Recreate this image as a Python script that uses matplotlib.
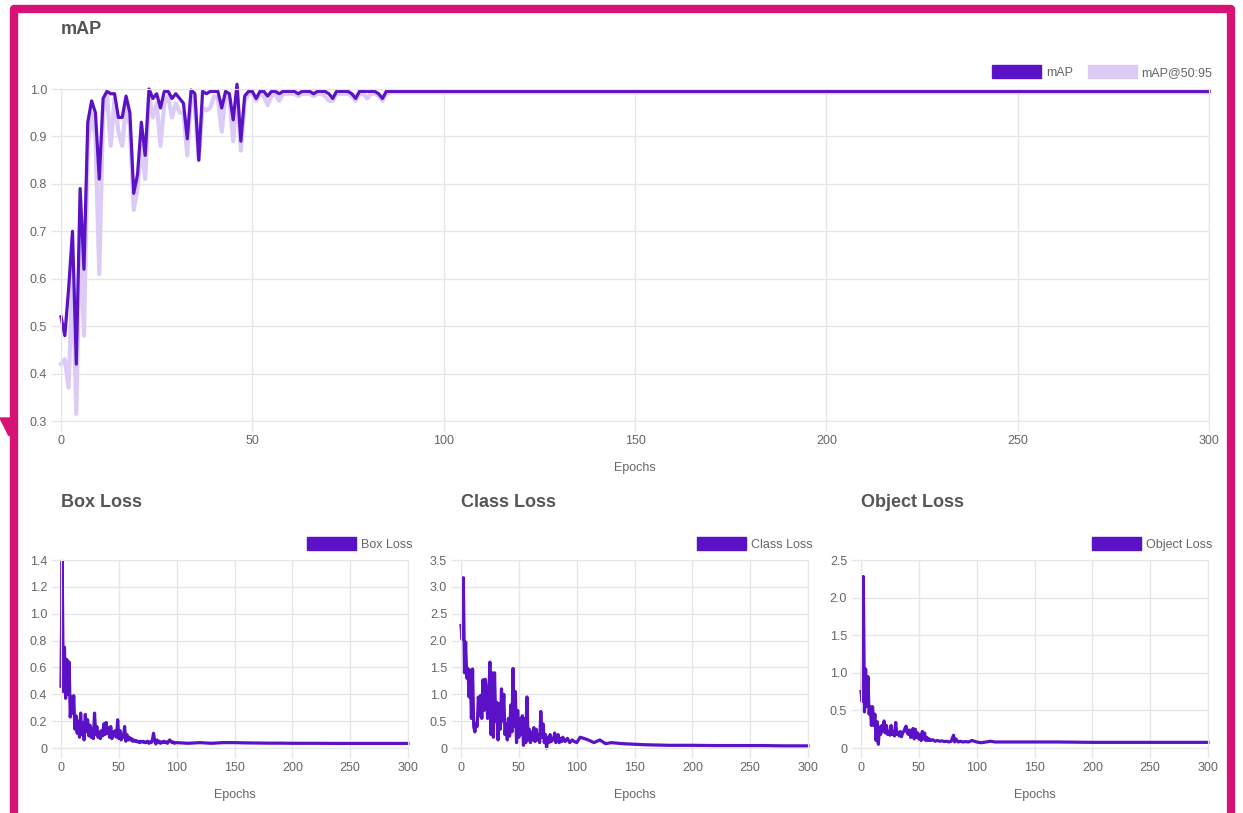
import matplotlib.pyplot as plt
from matplotlib.patches import Patch, Rectangle, Polygon

# ---- data ----
map_epochs = list(range(0, 91)) + list(range(100, 301, 10))
map_vals = [0.52, 0.48, 0.58, 0.70, 0.42, 0.79, 0.62, 0.93, 0.975, 0.95,
            0.81, 0.98, 0.995, 0.99, 0.99, 0.94, 0.94, 0.985, 0.95, 0.78,
            0.82, 0.93, 0.86, 1.0, 0.98, 0.99, 0.96, 0.995, 0.995, 0.98,
            0.99, 0.98, 0.97, 0.895, 0.998, 0.99, 0.85, 0.995, 0.99, 0.995,
            0.995, 0.995, 0.96, 0.995, 0.99, 0.935, 1.01, 0.89, 0.985, 0.995,
            0.995, 0.98, 0.995, 0.995, 0.985, 0.995, 0.995, 0.99, 0.995, 0.995,
            0.995, 0.995, 0.99, 0.995, 0.995, 0.995, 0.99, 0.995, 0.995, 0.995,
            0.99, 0.98, 0.995, 0.995, 0.995, 0.995, 0.99, 0.98, 0.995, 0.995,
            0.995, 0.995, 0.995, 0.99, 0.98, 0.995, 0.995, 0.995, 0.995, 0.995,
            0.995,
            0.995, 0.995, 0.995, 0.995, 0.995, 0.995, 0.995, 0.995, 0.995, 0.995,
            0.995, 0.995, 0.995, 0.995, 0.995, 0.995, 0.995, 0.995, 0.995, 0.995,
            0.995]
map5095_vals = [0.42, 0.43, 0.37, 0.62, 0.315, 0.72, 0.48, 0.88, 0.95, 0.90,
                0.61, 0.95, 0.99, 0.88, 0.98, 0.91, 0.88, 0.97, 0.92, 0.745,
                0.79, 0.88, 0.81, 0.99, 0.94, 0.97, 0.88, 0.97, 0.985, 0.94,
                0.97, 0.95, 0.95, 0.86, 0.99, 0.96, 0.85, 0.96, 0.955, 0.96,
                0.985, 0.98, 0.91, 0.985, 0.98, 0.89, 0.99, 0.87, 0.975, 0.99,
                0.99, 0.975, 0.99, 0.985, 0.966, 0.985, 0.99, 0.975, 0.99, 0.99,
                0.99, 0.99, 0.985, 0.99, 0.99, 0.99, 0.985, 0.99, 0.99, 0.985,
                0.975, 0.975, 0.99, 0.99, 0.99, 0.99, 0.985, 0.975, 0.99, 0.99,
                0.98, 0.99, 0.99, 0.985, 0.975, 0.99, 0.993, 0.993, 0.993, 0.993,
                0.993,
                0.993, 0.993, 0.993, 0.993, 0.993, 0.993, 0.993, 0.993, 0.993, 0.993,
                0.993, 0.993, 0.993, 0.993, 0.993, 0.993, 0.993, 0.993, 0.993, 0.993,
                0.993]

box_epochs = list(range(0, 101)) + [110, 120, 130, 140, 150, 160, 170, 180, 190, 200,
                                    220, 240, 260, 280, 300]
box_vals = [0.46, 1.39, 0.42, 0.75, 0.37, 0.66, 0.40, 0.64, 0.23, 0.38,
            0.26, 0.39, 0.14, 0.24, 0.11, 0.20, 0.08, 0.26, 0.10, 0.19,
            0.06, 0.25, 0.12, 0.21, 0.09, 0.17, 0.08, 0.14, 0.07, 0.26,
            0.10, 0.16, 0.08, 0.12, 0.07, 0.13, 0.09, 0.18, 0.10, 0.19,
            0.11, 0.15, 0.08, 0.16, 0.07, 0.12, 0.09, 0.13, 0.08, 0.21,
            0.07, 0.13, 0.06, 0.10, 0.08, 0.16, 0.05, 0.10, 0.06, 0.08,
            0.06, 0.07, 0.05, 0.06, 0.05, 0.055, 0.045, 0.05, 0.04, 0.05,
            0.045, 0.05, 0.04, 0.045, 0.04, 0.05, 0.035, 0.045, 0.04, 0.06,
            0.11, 0.05, 0.03, 0.06, 0.04, 0.05, 0.035, 0.045, 0.04, 0.05,
            0.04, 0.045, 0.035, 0.05, 0.06, 0.05, 0.04, 0.045, 0.035, 0.04,
            0.04,
            0.035, 0.04, 0.035, 0.04, 0.04, 0.038, 0.037, 0.036, 0.036, 0.035,
            0.035, 0.034, 0.034, 0.034, 0.034]

cls_epochs = list(range(0, 91)) + [92, 94, 96, 98, 100, 103, 106, 110, 115, 120,
                                   125, 130, 140, 150, 160, 180, 200, 220, 240,
                                   260, 280, 300]
cls_vals = [2.28, 2.02, 3.17, 1.40, 1.97, 1.30, 1.48, 0.95, 1.45, 0.55,
            1.47, 0.40, 0.30, 0.45, 0.40, 0.95, 0.60, 0.98, 0.55, 1.27,
            0.70, 1.28, 1.05, 0.55, 0.95, 1.60, 0.25, 1.40, 0.20, 1.40,
            0.50, 0.85, 0.15, 0.82, 0.35, 1.10, 0.50, 1.00, 0.25, 0.45,
            0.15, 0.55, 0.22, 0.80, 0.30, 1.48, 0.40, 1.05, 0.10, 0.70,
            0.20, 0.55, 0.25, 0.60, 0.05, 0.55, 0.10, 0.95, 0.15, 0.35,
            0.10, 0.30, 0.15, 0.38, 0.12, 0.35, 0.15, 0.25, 0.10, 0.68,
            0.20, 0.45, 0.10, 0.25, 0.00, 0.20, 0.10, 0.25, 0.12, 0.18,
            0.15, 0.28, 0.10, 0.15, 0.25, 0.10, 0.18, 0.12, 0.20, 0.15,
            0.12,
            0.18, 0.10, 0.15, 0.12, 0.10, 0.20, 0.18, 0.15, 0.10, 0.15,
            0.08, 0.10, 0.08, 0.07, 0.06, 0.05, 0.05, 0.045, 0.045,
            0.045, 0.04, 0.04]

obj_epochs = list(range(0, 61)) + [62, 64, 66, 68, 70, 72, 74, 76, 78, 80, 81, 82,
                                   84, 86, 88, 90, 93, 96, 98, 100, 104, 108, 112,
                                   116, 120, 130, 140, 150, 170, 200, 230, 260, 300]
obj_vals = [0.75, 0.62, 2.28, 0.48, 1.05, 0.55, 0.95, 0.45, 0.55, 0.30,
            0.55, 0.30, 0.45, 0.10, 0.35, 0.05, 0.28, 0.18, 0.30, 0.22,
            0.36, 0.20, 0.30, 0.18, 0.22, 0.17, 0.30, 0.18, 0.22, 0.16,
            0.34, 0.18, 0.20, 0.16, 0.22, 0.15, 0.20, 0.22, 0.26, 0.29,
            0.20, 0.18, 0.24, 0.14, 0.18, 0.26, 0.12, 0.25, 0.14, 0.20,
            0.12, 0.18, 0.10, 0.22, 0.12, 0.20, 0.10, 0.14, 0.10, 0.12,
            0.10,
            0.11, 0.09, 0.10, 0.09, 0.095, 0.085, 0.09, 0.08, 0.09, 0.17, 0.08, 0.12,
            0.08, 0.09, 0.08, 0.085, 0.08, 0.10, 0.09, 0.08, 0.07, 0.08, 0.09,
            0.08, 0.08, 0.08, 0.08, 0.08, 0.08, 0.075, 0.075, 0.075, 0.075]

DARK = "#5b12c6"
LIGHT = "#dccbf7"
GRID = "#e6e6e6"
TXT = "#666666"
PINK = "#d81274"

W, H = 1243, 813
plt.rcParams["font.family"] = ["Liberation Sans", "DejaVu Sans"]

fig = plt.figure(figsize=(W / 100, H / 100), dpi=100)


def px_axes(l, t, r, b):
    return fig.add_axes([l / W, 1 - b / H, (r - l) / W, (b - t) / H])


def style(ax, ymin, ymax, ystep, xstep):
    ax.set_xlim(0, 300)
    ax.set_ylim(ymin, ymax)
    yt = []
    v = ymin
    while v <= ymax + 1e-9:
        yt.append(round(v, 2))
        v += ystep
    ax.set_yticks(yt)
    ax.set_yticklabels([f"{t:.1f}" if t != 0 else "0" for t in yt])
    ax.set_xticks(list(range(0, 301, xstep)))
    ax.grid(True, color=GRID, linewidth=1)
    ax.set_axisbelow(True)
    for s in ax.spines.values():
        s.set_color(GRID)
    ax.tick_params(colors=GRID, labelcolor=TXT, labelsize=9, length=7, width=1, pad=3)
    ax.set_xlabel("Epochs", color=TXT, fontsize=9, labelpad=11)


def legend(ax, items, anchor_x, anchor_y):
    handles = [Patch(facecolor=c, edgecolor=c, label=l) for l, c in items]
    ax.legend(handles=handles, loc="lower right", bbox_to_anchor=(anchor_x, anchor_y),
              ncol=len(items), frameon=False, fontsize=9, labelcolor=TXT,
              handlelength=3.9, handleheight=1.25, handletextpad=0.4,
              columnspacing=1.2, borderaxespad=0, borderpad=0)


# mAP
ax = px_axes(61, 89, 1209, 421)
ax.plot(map_epochs, map5095_vals, color=LIGHT, lw=3, clip_on=False)
ax.plot(map_epochs, map_vals, color=DARK, lw=2.3, clip_on=False)
style(ax, 0.3, 1.0, 0.1, 50)
legend(ax, [("mAP", DARK), ("mAP@50:95", LIGHT)], 1.003, 1.03)
fig.text(61 / W, 1 - 29 / H, "mAP", fontsize=13, fontweight="bold", color="#555555",
         va="center", ha="left")

# losses
losses = [
    (61, 408, "Box Loss", box_epochs, box_vals, 1.4, 0.2),
    (461, 808, "Class Loss", cls_epochs, cls_vals, 3.5, 0.5),
    (861, 1208, "Object Loss", obj_epochs, obj_vals, 2.5, 0.5),
]
for l, r, name, xs, ys, ymax, step in losses:
    ax = px_axes(l, 560, r, 748)
    ax.plot(xs, ys, color=DARK, lw=2.3, clip_on=False)
    style(ax, 0, ymax, step, 50)
    legend(ax, [(name, DARK)], 1.012, 1.05)
    fig.text(l / W, 1 - 502 / H, name, fontsize=13, fontweight="bold", color="#555555",
             va="center", ha="left")

# pink frame of the screenshot
fig.patches.append(Rectangle((14 / W, -0.05), (1231 - 14) / W, 1.05 - 9 / H,
                             transform=fig.transFigure, fill=False, edgecolor=PINK,
                             linewidth=6, joinstyle="round"))
fig.patches.append(Polygon([(0, 1 - 418 / H), (12 / W, 1 - 418 / H), (9 / W, 1 - 436 / H)],
                           closed=True, transform=fig.transFigure, facecolor=PINK,
                           edgecolor=PINK))

fig.savefig("out.png", dpi=100)
